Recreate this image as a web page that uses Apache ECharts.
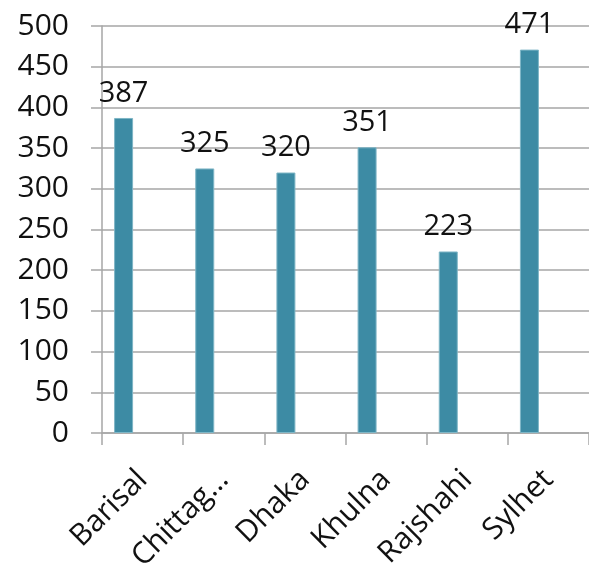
<!DOCTYPE html>
<html>
<head>
<meta charset="utf-8">
<script src="https://cdn.jsdelivr.net/npm/echarts@6/dist/echarts.min.js"></script>
<style>
  html, body { margin: 0; padding: 0; background: #fff; }
  #chart { width: 589px; height: 575px; }
</style>
</head>
<body>
<div id="chart"></div>
<script>
// Divisions and their counts
const categories = ['Barisal', 'Chittagong', 'Dhaka', 'Khulna', 'Rajshahi', 'Sylhet'];
const counts = [387, 325, 320, 351, 223, 471];
const yTicks = { min: 0, max: 500, interval: 50 };

const FONT = '"Open Sans", "Noto Sans", sans-serif';
const GRID_COLOR = '#a6a6a6';
const BAR_COLOR = '#3d8ba4';

// Bars sit in the first slot of a three-slot group, the other slots stay empty
const empty = categories.map(() => '-');

const chart = echarts.init(document.getElementById('chart'), null, { renderer: 'canvas' });
chart.setOption({
  animation: false,
  grid: { left: 102, right: -2, top: 26, bottom: 142, containLabel: false },
  xAxis: {
    type: 'category',
    data: categories,
    boundaryGap: true,
    axisLine: { show: true, lineStyle: { color: GRID_COLOR, width: 1.5 } },
    axisTick: { show: true, length: 12, alignWithLabel: false, lineStyle: { color: GRID_COLOR, width: 1.5 } },
    axisLabel: {
      rotate: 45,
      interval: 0,
      margin: 42,
      color: '#111',
      fontFamily: FONT,
      fontSize: 30,
      formatter: v => (v.length > 8 ? v.slice(0, 7) + '…' : v)
    }
  },
  yAxis: {
    type: 'value',
    min: yTicks.min,
    max: yTicks.max,
    interval: yTicks.interval,
    axisLine: { show: true, lineStyle: { color: GRID_COLOR, width: 1.5 } },
    axisTick: { show: true, inside: false, length: 11, lineStyle: { color: GRID_COLOR, width: 1.5 } },
    splitLine: { show: true, lineStyle: { color: GRID_COLOR, width: 1.5 } },
    axisLabel: {
      margin: 33,
      color: '#111',
      fontFamily: FONT,
      fontSize: 30
    }
  },
  series: [
    {
      name: 'Count',
      type: 'bar',
      data: counts,
      barWidth: 19,
      barGap: '0%',
      itemStyle: { color: BAR_COLOR, borderColor: '#7fb6c6', borderWidth: 1 },
      label: {
        show: true,
        position: 'top',
        distance: 10,
        color: '#111',
        fontFamily: FONT,
        fontSize: 29
      }
    },
    { name: 'b', type: 'bar', data: empty, barWidth: 19, barGap: '0%' },
    { name: 'c', type: 'bar', data: empty, barWidth: 19, barGap: '0%' }
  ]
});
</script>
</body>
</html>
